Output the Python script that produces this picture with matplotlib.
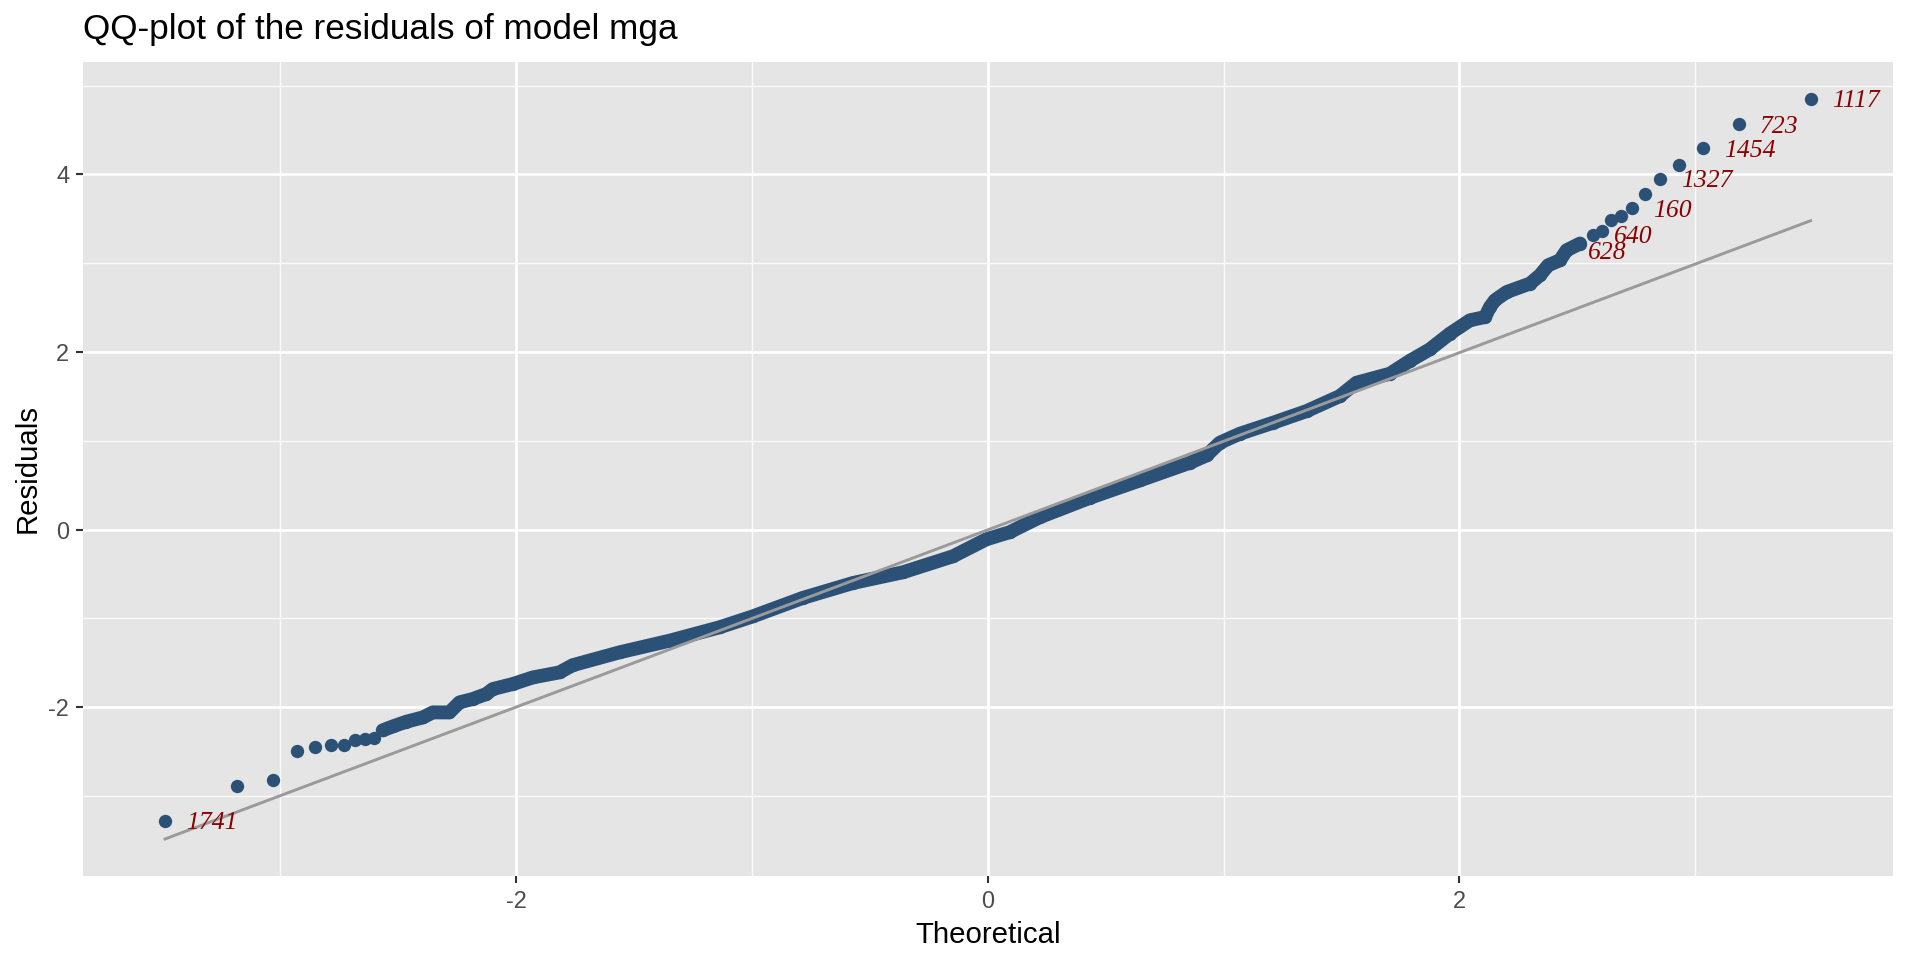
import matplotlib
matplotlib.use("Agg")
import matplotlib.pyplot as plt
import numpy as np

# valori: quantili teorici e residui del modello mga
# coda sinistra (punti isolati)
theo_low = [-3.489, -3.183, -3.032, -2.929, -2.851, -2.786, -2.732, -2.684, -2.641, -2.602]
resid_low = [-3.282, -2.887, -2.822, -2.490, -2.454, -2.427, -2.427, -2.374, -2.363, -2.348]

# corpo centrale (punti fitti, si leggono come una banda continua)
theo_body = [-2.566, -2.523, -2.466, -2.396, -2.353, -2.283, -2.240, -2.184, -2.127,
             -2.099, -2.014, -1.929, -1.816, -1.760, -1.561, -1.349, -1.137, -0.996,
             -0.784, -0.571, -0.359, -0.147, -0.006, 0.093, 0.221, 0.433, 0.645,
             0.857, 0.928, 0.984, 1.069, 1.210, 1.352, 1.493, 1.564, 1.706, 1.790,
             1.875, 1.960, 2.045, 2.109, 2.130, 2.151, 2.201, 2.300, 2.342, 2.377,
             2.427, 2.455, 2.512]
resid_body = [-2.262, -2.218, -2.165, -2.117, -2.060, -2.060, -1.947, -1.909, -1.853,
              -1.797, -1.740, -1.666, -1.609, -1.528, -1.383, -1.252, -1.101, -0.978,
              -0.770, -0.602, -0.481, -0.301, -0.110, -0.030, 0.139, 0.357, 0.553,
              0.752, 0.835, 0.978, 1.079, 1.203, 1.334, 1.503, 1.654, 1.756, 1.900,
              2.030, 2.207, 2.357, 2.394, 2.507, 2.583, 2.676, 2.771, 2.865, 2.977,
              3.034, 3.146, 3.222]

# coda destra (punti isolati)
theo_high = [2.568, 2.604, 2.642, 2.684, 2.731, 2.788, 2.851, 2.930, 3.032, 3.185, 3.490]
resid_high = [3.319, 3.364, 3.485, 3.533, 3.620, 3.775, 3.951, 4.109, 4.297, 4.564, 4.853]

# osservazioni etichettate
label_ids = ["1741", "628", "640", "160", "1327", "1454", "723", "1117"]
label_theo = [-3.489, 2.455, 2.568, 2.731, 2.851, 3.032, 3.185, 3.490]
label_resid = [-3.282, 3.146, 3.319, 3.620, 3.951, 4.297, 4.564, 4.853]

# retta di riferimento (qq-line)
line_slope = 0.998
line_intercept = -0.004

POINT = "#2c5177"
LINE = "#9a9a9a"
LABEL = "#8b0000"
PANEL = "#e5e5e5"

plt.rcParams["font.family"] = ["Liberation Sans", "DejaVu Sans"]
plt.rcParams["axes.unicode_minus"] = False

fig, ax = plt.subplots(figsize=(10, 5), dpi=192)
fig.subplots_adjust(left=0.0431, right=0.9859, bottom=0.0875, top=0.9357)
ax.set_facecolor(PANEL)
for spine in ax.spines.values():
    spine.set_visible(False)

# punti
ax.plot(theo_body, resid_body, color=POINT, linewidth=5.2, solid_capstyle="round",
        solid_joinstyle="round", marker="o", markersize=5.0, markeredgewidth=0, zorder=3)
ax.plot(theo_low + theo_high, resid_low + resid_high, linestyle="none", marker="o",
        markersize=5.0, markeredgewidth=0, color=POINT, zorder=3)

# qq-line sul range dei quantili teorici
all_theo = np.array(theo_low + theo_body + theo_high)
all_resid = np.array(resid_low + resid_body + resid_high)
x_line = np.array([all_theo.min(), all_theo.max()])
y_line = line_intercept + line_slope * x_line
ax.plot(x_line, y_line, color=LINE, linewidth=1.1, zorder=4)

for lab, tx, ty in zip(label_ids, label_theo, label_resid):
    ax.annotate(lab, (tx, ty), xytext=(7.9, 0), textcoords="offset points",
                ha="left", va="center_baseline", fontsize=9.6, color=LABEL,
                family=["Liberation Serif", "DejaVu Serif"], style="italic", zorder=5)

# limiti con espansione del 5% come in ggplot
x_lo, x_hi = all_theo.min(), all_theo.max()
y_lo = min(all_resid.min(), y_line.min())
y_hi = max(all_resid.max(), y_line.max())
ax.set_xlim(x_lo - 0.05 * (x_hi - x_lo), x_hi + 0.05 * (x_hi - x_lo))
ax.set_ylim(y_lo - 0.05 * (y_hi - y_lo), y_hi + 0.05 * (y_hi - y_lo))

ax.set_xticks([-2, 0, 2])
ax.set_yticks([-2, 0, 2, 4])
ax.set_xticks([-3, -1, 1, 3], minor=True)
ax.set_yticks([-3, -1, 1, 3, 5], minor=True)
ax.grid(which="major", color="white", linewidth=1.0)
ax.grid(which="minor", color="#fafafa", linewidth=0.55)
ax.set_axisbelow(True)
ax.tick_params(which="major", length=2.5, width=0.8, color="#333333",
               labelsize=8.8, labelcolor="#4d4d4d", pad=2.6)
ax.tick_params(which="minor", length=0)

ax.set_xlabel("Theoretical", fontsize=11, labelpad=3.0)
ax.set_ylabel("Residuals", fontsize=11, labelpad=2.6)
ax.set_title("QQ-plot of the residuals of model mga", loc="left", fontsize=13.2, pad=8.5)

fig.savefig("out.png", dpi=192, facecolor="white")
